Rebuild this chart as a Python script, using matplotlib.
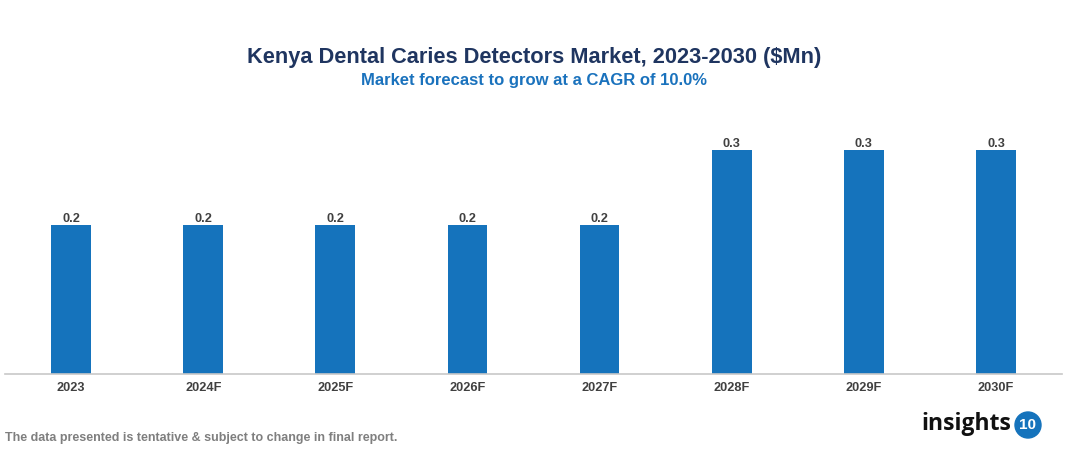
import matplotlib.pyplot as plt
from matplotlib.patches import Circle

plt.rcParams['font.family'] = ['Liberation Sans', 'DejaVu Sans']

years = ["2023", "2024F", "2025F", "2026F", "2027F", "2028F", "2029F", "2030F"]
values = [0.2, 0.2, 0.2, 0.2, 0.2, 0.3, 0.3, 0.3]
labels = ["0.2", "0.2", "0.2", "0.2", "0.2", "0.3", "0.3", "0.3"]

title = "Kenya Dental Caries Detectors Market, 2023-2030 ($Mn)"
subtitle = "Market forecast to grow at a CAGR of 10.0%"
footer = "The data presented is tentative & subject to change in final report."

bar_color = "#1573bc"

fig = plt.figure(figsize=(10.67, 4.54), dpi=100)
ax = fig.add_axes([5 / 1067, 1 - 374 / 454, 1057 / 1067, 264 / 454])

x = range(len(years))
bars = ax.bar(x, values, width=0.3, color=bar_color, zorder=2)
for rect, lab in zip(bars, labels):
    ax.text(rect.get_x() + rect.get_width() / 2, rect.get_height(), lab,
            ha="center", va="bottom", fontsize=9.2, fontweight="bold",
            color="#404040")

ax.set_xlim(-0.5, len(years) - 0.5)
ax.set_ylim(0, 0.3 * 264 / 224)
ax.set_xticks(list(x))
ax.set_xticklabels(years, fontsize=9.2, fontweight="bold", color="#404040")
ax.tick_params(axis="x", length=0, pad=6)
ax.set_yticks([])
for side in ("top", "right", "left"):
    ax.spines[side].set_visible(False)
ax.spines["bottom"].set_color("#c8c8c8")
ax.spines["bottom"].set_linewidth(1.2)

fig.text(534 / 1067, 1 - 57 / 454, title, ha="center", va="center",
         fontsize=15.7, fontweight="bold", color="#1f3560")
fig.text(534 / 1067, 1 - 81 / 454, subtitle, ha="center", va="center",
         fontsize=12, fontweight="bold", color="#1a72bd")
fig.text(5 / 1067, 1 - 438 / 454, footer, ha="left", va="center",
         fontsize=9, fontweight="bold", color="#7f7f7f")

# logo
fig.text(1011 / 1067, 1 - 424 / 454, "insights", ha="right", va="center",
         fontsize=16.5, fontweight="bold", color="#111111",
         family=["Open Sans", "DejaVu Sans"])
cx, cy = 1028 / 1067, 1 - 425 / 454
circ = Circle((1028, 454 - 425), 13, transform=None, color=bar_color)
fig.patches.append(circ)
fig.text(cx, cy, "10", ha="center", va="center", fontsize=11,
         fontweight="bold", color="white")

fig.savefig("out.png", dpi=100)
